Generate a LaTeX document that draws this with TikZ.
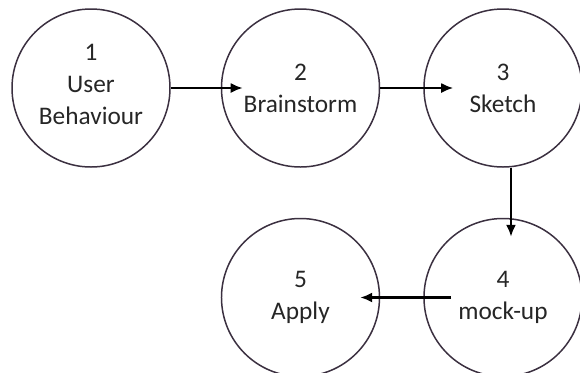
\documentclass[tikz,border=0pt]{standalone}
\usepackage{fontspec}
\setmainfont{Carlito}
\usetikzlibrary{arrows.meta,positioning}
\definecolor{circline}{HTML}{3B3040}

\begin{document}
\begin{tikzpicture}[
    node distance=1cm,
    stage/.style={circle, draw=circline, line width=0.85pt, minimum size=3.16cm, inner sep=0pt, align=center, text=black!85, font=\fontsize{14.4}{18.2}\selectfont},
    arrow/.style={->, >={Latex[length=0.24cm, width=0.2cm]}, line width=1.2pt}
]
\useasboundingbox (0,0) rectangle (11.6,-7.44);

% Top row
\node[stage] (user) at (1.82,-1.76) {1\\User\\Behaviour\\[-13.6pt]};
\node[stage, right=1cm of user] (brain) {2\\Brainstorm};
\node[stage, right=0.86cm of brain] (sketch) {3\\Sketch};

% Bottom row
\node[stage, below=1cm of sketch] (mockup) {4\\mock-up};
\node[stage, left=0.86cm of mockup] (apply) {5\\Apply};

% Arrows
\draw[arrow, shorten >=-0.44cm] (user) -- (brain);
\draw[arrow, shorten >=-0.6cm] (brain) -- (sketch);
\draw[arrow, shorten >=-0.38cm] ([xshift=0.16cm]sketch.south) -- ([xshift=0.16cm]sketch.south |- mockup.north);
\draw[arrow, shorten <=-0.56cm, shorten >=-0.4cm] (mockup) -- (apply);

\end{tikzpicture}
\end{document}
